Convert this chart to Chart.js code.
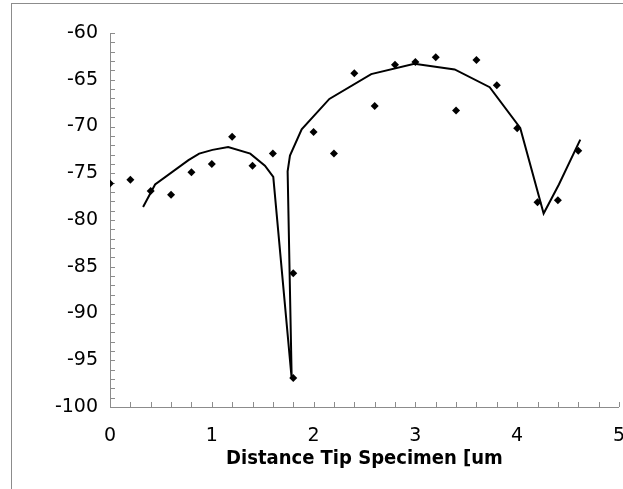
<!DOCTYPE html>
<html>
<head>
<meta charset="utf-8">
<script src="https://cdn.jsdelivr.net/npm/chart.js@4"></script>
<style>
  html, body { margin: 0; padding: 0; background: #fff; overflow: hidden; width: 623px; height: 489px; }
  #wrap { position: absolute; left: 0; top: 0; width: 643px; height: 489px; }
  #frame { position: absolute; left: 11px; top: 3px; width: 700px; height: 600px; border-left: 1px solid #8c8c8c; border-top: 1px solid #8c8c8c; pointer-events: none; }
</style>
</head>
<body>
<div id="wrap"><canvas id="c" width="643" height="489"></canvas></div>
<div id="frame"></div>
<script>
// Measured points (scatter)
const measX = [0, 0.2, 0.4, 0.6, 0.8, 1.0, 1.2, 1.4, 1.6, 1.8, 1.8, 2.0, 2.2, 2.4, 2.6, 2.8, 3.0, 3.2, 3.4, 3.6, 3.8, 4.0, 4.2, 4.4, 4.6];
const measY = [-76.1, -75.7, -76.9, -77.3, -74.9, -74.0, -71.1, -74.2, -72.9, -85.7, -96.9, -70.6, -72.9, -64.3, -67.8, -63.4, -63.1, -62.6, -68.3, -62.9, -65.6, -70.2, -78.1, -77.9, -72.6];

// Model curve (line)
const modelX = [0.325, 0.443, 0.771, 0.876, 1.007, 1.161, 1.378, 1.522, 1.604, 1.785, 1.745, 1.768, 1.883, 2.155, 2.566, 2.99, 3.386, 3.73, 4.03, 4.26, 4.41, 4.62];
const modelY = [-78.6, -76.2, -73.6, -72.9, -72.5, -72.2, -72.9, -74.2, -75.4, -97.0, -74.8, -73.1, -70.3, -67.05, -64.4, -63.3, -63.9, -65.8, -70.15, -79.3, -76.2, -71.4];

// Axis settings
const xMin = 0, xMax = 5, xMajor = 1, xMinor = 0.2;
const yMin = -100, yMax = -60, yMajor = 5, yMinor = 1;
const xTitle = 'Distance Tip Specimen [um';

const scatterData = measX.map((x, i) => ({ x: x, y: measY[i] }));
const lineData = modelX.map((x, i) => ({ x: x, y: modelY[i] }));

const insideTicks = {
  id: 'insideTicks',
  beforeDatasetsDraw(chart) {
    const ctx = chart.ctx;
    const xs = chart.scales.x, ys = chart.scales.y;
    const area = chart.chartArea;
    ctx.save();
    ctx.strokeStyle = '#8c8c8c';
    ctx.lineWidth = 1;
    ctx.beginPath();
    const nx = Math.round((xMax - xMin) / xMinor);
    for (let i = 0; i <= nx; i++) {
      const v = xMin + i * xMinor;
      const px = Math.round(xs.getPixelForValue(v)) + 0.5;
      const yb = Math.round(area.bottom);
      ctx.moveTo(px, yb);
      ctx.lineTo(px, yb - 5);
    }
    const ny = Math.round((yMax - yMin) / yMinor);
    for (let i = 0; i <= ny; i++) {
      const v = yMin + i * yMinor;
      const py = Math.round(ys.getPixelForValue(v)) + 0.5;
      const xl = Math.round(area.left);
      ctx.moveTo(xl, py);
      ctx.lineTo(xl + 5, py);
    }
    ctx.stroke();
    ctx.restore();
  }
};

new Chart(document.getElementById('c'), {
  type: 'scatter',
  data: {
    datasets: [
      {
        label: 'model',
        data: lineData,
        showLine: true,
        borderColor: '#000',
        borderWidth: 2,
        pointRadius: 0,
        fill: false,
        tension: 0
      },
      {
        label: 'measured',
        data: scatterData,
        showLine: false,
        pointStyle: 'rectRot',
        pointRadius: 4,
        pointBackgroundColor: '#000',
        pointBorderColor: '#000',
        pointBorderWidth: 0
      }
    ]
  },
  options: {
    responsive: false,
    animation: false,
    devicePixelRatio: 1,
    layout: { padding: { left: 0, right: 0, top: 33, bottom: 0 } },
    plugins: { legend: { display: false }, tooltip: { enabled: false } },
    scales: {
      x: {
        type: 'linear',
        min: xMin, max: xMax,
        grid: { display: false, drawTicks: false },
        border: { display: true, color: '#8c8c8c', width: 1 },
        ticks: {
          stepSize: xMajor,
          padding: 18,
          color: '#000',
          font: { family: 'DejaVu Sans', size: 19 },
          maxRotation: 0,
          autoSkip: false
        },
        title: {
          display: true,
          text: xTitle,
          color: '#000',
          font: { family: "'DejaVu Sans Condensed', 'DejaVu Sans'", size: 20, weight: 'bold' },
          padding: { top: 0, bottom: 18 }
        },
        afterFit(scale) { scale.height = 82; }
      },
      y: {
        type: 'linear',
        min: yMin, max: yMax,
        grid: { display: false, drawTicks: false },
        border: { display: true, color: '#8c8c8c', width: 1 },
        ticks: {
          stepSize: yMajor,
          padding: 12,
          color: '#000',
          font: { family: 'DejaVu Sans', size: 19 }
        },
        afterFit(scale) { scale.width = 110; }
      }
    }
  },
  plugins: [insideTicks]
});
</script>
</body>
</html>
